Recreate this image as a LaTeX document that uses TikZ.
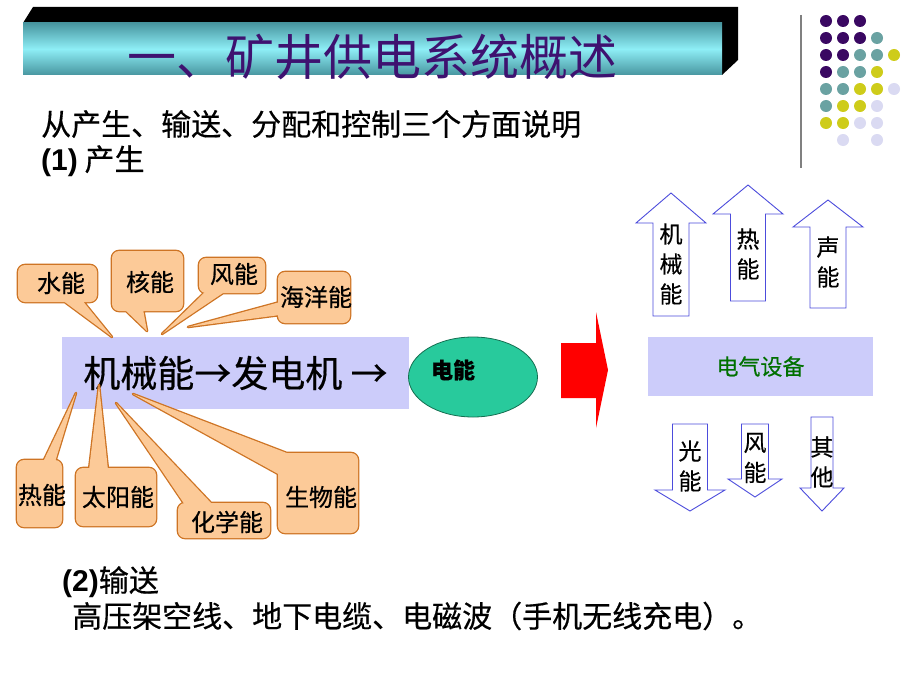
\documentclass[tikz,border=0pt]{standalone}
\usepackage{fontspec}
\setmainfont{Noto Sans CJK SC}[FakeBold=0.45]
\newfontfamily\thinfont{Noto Sans CJK SC}
\newfontfamily\arialfont{Liberation Sans}
\usetikzlibrary{shapes.geometric}

\definecolor{lavender}{RGB}{204,204,250}
\definecolor{peach}{RGB}{252,202,152}
\definecolor{peachline}{RGB}{206,116,36}
\definecolor{eggreen}{RGB}{40,202,156}
\definecolor{egborder}{RGB}{20,110,80}
\definecolor{arrowblue}{RGB}{76,76,220}
\definecolor{titlepurple}{RGB}{62,18,112}
\definecolor{cyanlight}{RGB}{142,238,246}
\definecolor{cyandark}{RGB}{72,150,160}
\definecolor{devgreen}{RGB}{0,112,0}
% Farben der Punkte
\definecolor{dotP}{RGB}{58,8,98}
\definecolor{dotT}{RGB}{106,162,162}
\definecolor{dotY}{RGB}{206,204,26}
\definecolor{dotL}{RGB}{218,218,242}
\definecolor{dotN}{RGB}{255,255,255}

% Sprechblase: Ecke1, Ecke2, Fuss1, Spitze, Fuss2
\newcommand{\callout}[5]{%
  \draw[callline] [rounded corners=7pt] (#1) rectangle (#2) [sharp corners] (#3) -- (#4) -- (#5);
  \fill[peach] [rounded corners=7pt] (#1) rectangle (#2);
  \fill[peach] (#3) -- (#4) -- (#5) -- cycle;}

% Blockpfeil: Mitte x, halbe Schaftbreite, halbe Kopfbreite, y Ende, y Kopf, y Spitze
\newcommand{\blockarrow}[6]{%
  \draw[blockarr] (#1-#2,#4) -- (#1-#2,#5) -- (#1-#3,#5) -- (#1,#6) -- (#1+#3,#5)
    -- (#1+#2,#5) -- (#1+#2,#4) -- cycle;}

\begin{document}
\begin{tikzpicture}[x=1pt, y=-1pt,
  callline/.style={draw=peachline, line width=2.6pt, line join=round},
  calltext/.style={font=\fontsize{24}{28}\selectfont, inner sep=0pt},
  blockarr/.style={draw=arrowblue, fill=white, line width=0.9pt},
  arrtext/.style={font=\fontsize{23}{30}\selectfont, align=center, inner sep=0pt},
  bigtext/.style={font=\fontsize{30}{34}\selectfont, anchor=west, inner sep=0pt}]

\useasboundingbox (0,0) rectangle (920,690);
\fill[white] (0,0) rectangle (920,690);

% Titelbalken
\fill[black] (23,23) -- (33,7) -- (738,7) -- (738,60) -- (722,75) -- (722,23) -- cycle;
\shade[top color=cyandark, bottom color=cyandark, middle color=cyanlight] (23,23) rectangle (722,75);
\node[font=\thinfont\fontsize{49}{52}\selectfont, text=titlepurple, inner sep=0pt] (title) at (372,57) {一、矿井供电系统概述};

% Linie und Punkte rechts oben
\draw[gray, line width=1.5pt] (801,15) -- (801,168);
\foreach \r/\dotrow in {1/{P,P,P}, 2/{P,P,P,T}, 3/{P,P,T,T,Y}, 4/{P,T,T,Y},
    5/{T,T,Y,Y,L}, 6/{T,Y,Y,L}, 7/{Y,Y,L,L}, 8/{N,L,N,L}}
  \foreach \d [count=\c] in \dotrow
    \fill[dot\d] (809+17*\c, 4+17*\r) circle (6);

% Text oben
\node[bigtext] (intro) at (41,124) {从产生、输送、分配和控制三个方面说明};
\node[bigtext] (produce) at (41,161) {{\arialfont\bfseries (1)} 产生};

% Hauptkasten
\node[fill=lavender, minimum width=347pt, minimum height=72pt, inner sep=0pt,
  font=\fontsize{37}{40}\selectfont] (machine) at (235.5,373) {机械能→发电机 →};

% Sprechblasen
\callout{18,265}{97,302}{62,300}{112,337}{82,300}
\node[calltext] (water) at (61,283) {水能};
\callout{112,251}{183,311}{124,309}{147,331}{143,309}
\node[calltext] (nuclear) at (150,282) {核能};
\callout{199,258}{265,293}{206,291}{162,334}{226,291}
\node[calltext] (wind) at (234,274) {风能};
\callout{278,272}{350,323}{280,302}{188,327}{280,315}
\node[calltext] (ocean) at (316,297) {海洋能};
\callout{17,460}{62,527}{43,462}{76,393}{55,462}
\node[calltext] (heat) at (42,495) {热能};
\callout{76,468}{156,526}{89,470}{99,385}{108,470}
\node[calltext] (solar) at (118,497) {太阳能};
\callout{178,503}{270,538}{185,505}{116,403}{213,505}
\node[calltext] (chemical) at (227,522) {化学能};
\callout{278,453}{358,533}{292,455}{133,394}{280,475}
\node[calltext] (bio) at (321,497) {生物能};

% Elektrische Energie
\node[ellipse, fill=eggreen, draw=egborder, line width=0.8pt, minimum width=129pt,
  minimum height=80pt, inner sep=0pt] (power) at (473,377) {};
\node[font=\fontsize{22}{24}\selectfont\bfseries, inner sep=0pt] (powertext) at (453,370) {电能};

% roter Pfeil
\fill[red] (561,343) -- (596,343) -- (596,312) -- (608,370) -- (596,428) -- (596,398) -- (561,398) -- cycle;

% Verbraucher
\node[fill=lavender, minimum width=225pt, minimum height=59pt, inner sep=0pt,
  font=\fontsize{22}{24}\selectfont, text=devgreen] (device) at (760.5,366.5) {电气设备};

% Pfeile nach oben
\blockarrow{671}{18}{35}{316}{223}{193}
\node[arrtext] (mech) at (671,264) {机\\械\\能};
\blockarrow{748}{17.5}{35}{301}{214}{185}
\node[arrtext] (heatout) at (748,254) {热\\能};
\blockarrow{828}{18}{35}{308}{227}{200}
\node[arrtext] (sound) at (828,262) {声\\能};

% Pfeile nach unten
\blockarrow{690}{17.5}{35}{424}{490}{511}
\node[arrtext] (light) at (690,466) {光\\能};
\blockarrow{755}{13.5}{27}{424}{479}{497}
\node[arrtext] (windout) at (755,458) {风\\能};
\blockarrow{822}{11}{22}{417}{488}{511}
\node[arrtext] (other) at (822,462) {其\\他};

% Text unten
\node[bigtext] (transmit) at (62,582) {{\arialfont\bfseries(2)}输送};
\node[bigtext] (lines) at (72,616) {高压架空线、地下电缆、电磁波（手机无线充电）。};
\end{tikzpicture}
\end{document}
